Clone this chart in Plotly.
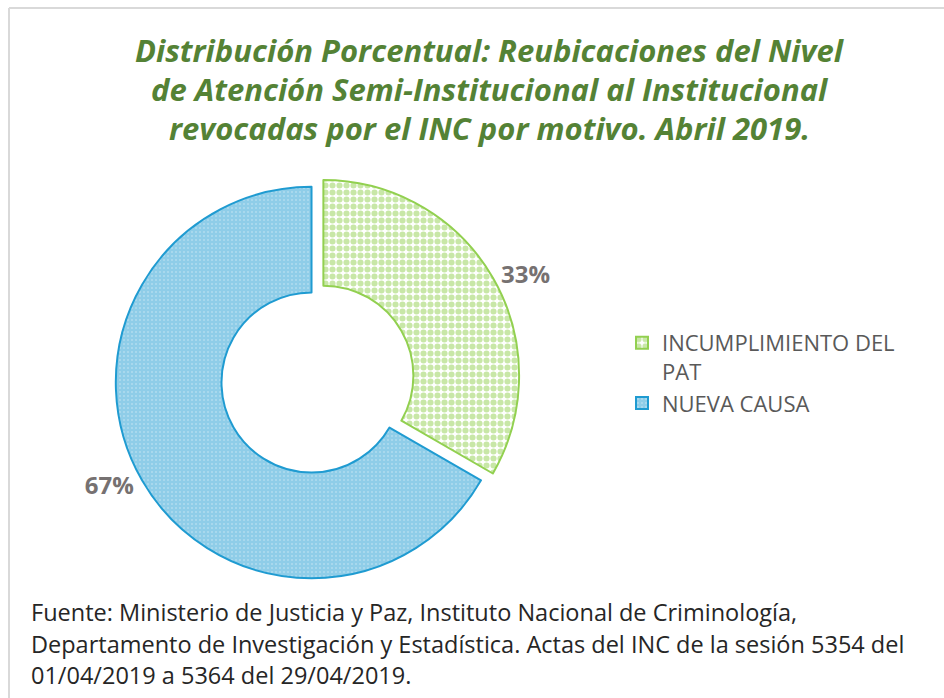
import plotly.graph_objects as go

labels = ["INCUMPLIMIENTO DEL<br>PAT", "NUEVA CAUSA"]
values = [1, 2]
colors = ["#92D050", "#1F9BD1"]

title_lines = [
    "Distribución Porcentual: Reubicaciones del Nivel",
    "de Atención Semi-Institucional al Institucional",
    "revocadas por el INC por motivo. Abril 2019.",
]
source_lines = [
    "Fuente: Ministerio de Justicia y Paz, Instituto Nacional de Criminología,",
    "Departamento de Investigación y Estadística. Actas del INC de la sesión 5354 del",
    "01/04/2019 a 5364 del 29/04/2019.",
]

W, H = 944, 698

fig = go.Figure()
fig.add_trace(go.Pie(
    labels=labels,
    values=values,
    hole=0.46,
    sort=False,
    direction="clockwise",
    rotation=0,
    pull=[0.07, 0],
    marker=dict(
        colors=["white", "white"],
        line=dict(color=colors, width=2),
        pattern=dict(
            shape=[".", "+"],
            fgcolor=colors,
            bgcolor=["white", "white"],
            size=[7, 4],
            solidity=[0.6, 0.95],
            fillmode="overlay",
        ),
    ),
    texttemplate="%{percent:.0%}",
    textposition="outside",
    textfont=dict(family="Open Sans", size=24, color="#767171", weight="bold"),
    outsidetextfont=dict(family="Open Sans", size=24, color="#767171", weight="bold"),
    domain=dict(x=[0.102, 0.558], y=[0.152, 0.752]),
    showlegend=True,
    hoverinfo="label+percent",
))

# title lines
title_y = [50, 89, 128]
for t, y in zip(title_lines, title_y):
    fig.add_annotation(
        text=t, x=490 / W, y=1 - y / H, xref="paper", yref="paper",
        xanchor="center", yanchor="middle", showarrow=False,
        font=dict(family="Open Sans", size=31, color="#548235", style="italic", weight="bold"),
    )

# source lines
src_y = [612, 644, 675]
for t, y in zip(source_lines, src_y):
    fig.add_annotation(
        text=t, x=29 / W, y=1 - y / H, xref="paper", yref="paper",
        xanchor="left", yanchor="middle", showarrow=False,
        font=dict(family="Open Sans", size=23.5, color="#262626"),
    )

# frame lines (top and left)
fig.add_shape(type="line", xref="paper", yref="paper", x0=9 / W, x1=1, y0=1 - 8 / H, y1=1 - 8 / H,
              line=dict(color="#D9D9D9", width=2))
fig.add_shape(type="line", xref="paper", yref="paper", x0=9 / W, x1=9 / W, y0=0, y1=1 - 8 / H,
              line=dict(color="#D9D9D9", width=2))

fig.update_layout(
    width=W, height=H,
    margin=dict(l=0, r=0, t=0, b=0),
    paper_bgcolor="white",
    plot_bgcolor="white",
    legend=dict(
        x=622 / W, y=1 - 322 / H, xanchor="left", yanchor="top",
        font=dict(family="Open Sans", size=22, color="#595959"),
        tracegroupgap=10,
        itemsizing="constant",
        valign="top",
    ),
)

fig.write_html("out.html", config={"displayModeBar": False},
               post_script="document.body.style.margin='0px';document.body.style.overflow='hidden';")
